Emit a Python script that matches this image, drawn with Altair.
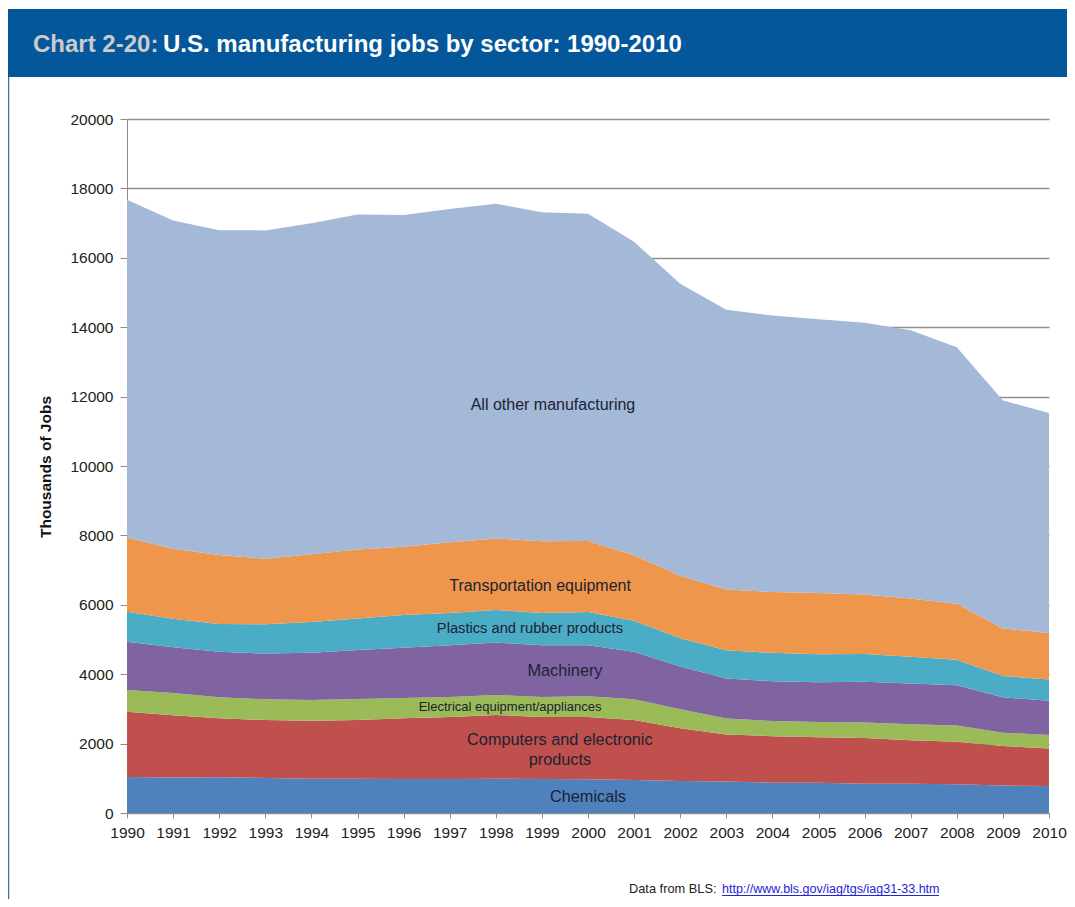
import altair as alt
import pandas as pd

# ---- data (thousands of jobs) ----
years = list(range(1990, 2011))
sectors = ["Chemicals", "Computers and electronic products", "Electrical equipment/appliances",
           "Machinery", "Plastics and rubber products", "Transportation equipment",
           "All other manufacturing"]
chemicals = [1040, 1020, 1030, 1010, 990, 990, 980, 980, 985, 980, 970, 950, 920, 905, 875, 870, 845, 840, 830, 790, 780]
computers = [1880, 1800, 1700, 1670, 1670, 1690, 1750, 1790, 1840, 1790, 1800, 1730, 1520, 1360, 1340, 1310, 1320, 1260, 1220, 1140, 1080]
electrical = [625, 640, 605, 595, 595, 605, 585, 575, 575, 575, 595, 595, 550, 460, 435, 440, 440, 460, 470, 385, 385]
machinery = [1390, 1320, 1310, 1320, 1360, 1410, 1450, 1490, 1510, 1490, 1470, 1370, 1230, 1150, 1150, 1150, 1180, 1170, 1160, 1020, 990]
plastics = [865, 815, 800, 845, 890, 910, 940, 930, 940, 930, 960, 895, 815, 815, 815, 805, 795, 770, 740, 615, 615]
transportation = [2140, 2020, 1990, 1890, 1950, 1990, 1970, 2040, 2060, 2070, 2045, 1890, 1800, 1750, 1755, 1765, 1720, 1680, 1610, 1370, 1340]
other = [9730, 9460, 9360, 9460, 9540, 9650, 9560, 9600, 9650, 9480, 9430, 9030, 8420, 8060, 7970, 7890, 7830, 7730, 7390, 6570, 6340]
colors = ["#4F81BD", "#C0504D", "#9BBB59", "#8064A2", "#4BACC6", "#EE964B", "#A4B8D8"]

y_ticks = list(range(0, 20001, 2000))

# in-chart labels: text, anchor year, anchor value
label_texts = ["All other manufacturing", "Transportation equipment", "Plastics and rubber products",
               "Machinery", "Electrical equipment/appliances", "Computers and electronic",
               "products", "Chemicals"]
label_years = [1999.24, 1998.96, 1998.74, 1999.5, 1998.31, 1999.39, 1999.39, 2000.0]
label_values = [11758, 6542, 5303, 4092, 3055, 2104, 1527, 461]
label_sizes = [16, 16, 14.7, 16.3, 13, 16.3, 16.3, 16.3]

title_prefix = "Chart 2-20:"
title_main = "U.S. manufacturing jobs by sector: 1990-2010"
source_prefix = "Data from BLS:"
source_link = "http://www.bls.gov/iag/tgs/iag31-33.htm"

# ---- build tables ----
series = [chemicals, computers, electrical, machinery, plastics, transportation, other]
rows = []
for i, (name, vals) in enumerate(zip(sectors, series)):
    for yr, v in zip(years, vals):
        rows.append({"year": yr, "jobs": v, "sector": name, "idx": i})
df = pd.DataFrame(rows)

lab = pd.DataFrame({"year": label_years, "value": label_values,
                    "text": label_texts, "fs": label_sizes})
one = pd.DataFrame({"a": [0]})

FONT = "Liberation Sans"

x_scale = alt.Scale(domain=[1990, 2010], nice=False, zero=False)
y_scale = alt.Scale(domain=[0, 20000], nice=False)

area = alt.Chart(df).mark_area(interpolate="linear").encode(
    x=alt.X("year:Q", scale=x_scale,
            axis=alt.Axis(values=years, format="d", title=None, grid=False,
                          tickSize=5, labelPadding=7, labelFontSize=15.5,
                          labelFont=FONT, labelColor="#222222",
                          domainColor="#8c8c8c", tickColor="#8c8c8c",
                          labelFlush=False, labelOverlap=False)),
    y=alt.Y("jobs:Q", stack="zero", scale=y_scale,
            axis=alt.Axis(values=y_ticks, format="d", title=None, grid=True,
                          gridColor="#8f8f8f", gridWidth=1.5,
                          tickSize=7, labelPadding=7, labelFontSize=15.5,
                          labelFont=FONT, labelColor="#222222",
                          domainColor="#8c8c8c", tickColor="#8c8c8c")),
    color=alt.Color("sector:N", scale=alt.Scale(domain=sectors, range=colors), legend=None),
    order=alt.Order("idx:Q", sort="ascending"),
)

labels = alt.Chart(lab).mark_text(font=FONT, color="#1b2233", align="center",
                                  baseline="middle").encode(
    x=alt.X("year:Q", scale=x_scale),
    y=alt.Y("value:Q", scale=y_scale),
    text="text:N",
    size=alt.Size("fs:Q", scale=None, legend=None),
)

banner = alt.Chart(one).mark_rect(color="#04579B").encode(
    x=alt.value(-119), x2=alt.value(940), y=alt.value(-110), y2=alt.value(-42))

left_border = alt.Chart(one).mark_rule(color="#3570b4", strokeWidth=1.5).encode(
    x=alt.value(-118.5), y=alt.value(-42), y2=alt.value(790))

t1 = alt.Chart(one).mark_text(font=FONT, fontSize=24, fontWeight="bold", color="#cccccc",
                              align="left", baseline="alphabetic").encode(
    x=alt.value(-94), y=alt.value(-67), text=alt.value(title_prefix))
t2 = alt.Chart(one).mark_text(font=FONT, fontSize=24, fontWeight="bold", color="#ffffff",
                              align="left", baseline="alphabetic").encode(
    x=alt.value(36), y=alt.value(-67), text=alt.value(title_main))

ytitle = alt.Chart(one).mark_text(font=FONT, fontSize=15.5, fontWeight="bold", color="#111111",
                                  angle=270, align="center", baseline="middle").encode(
    x=alt.value(-81), y=alt.value(348), text=alt.value("Thousands of Jobs"))

s1 = alt.Chart(one).mark_text(font=FONT, fontSize=12.8, color="#222222",
                              align="left", baseline="alphabetic").encode(
    x=alt.value(502), y=alt.value(774), text=alt.value(source_prefix))
s2 = alt.Chart(one).mark_text(font=FONT, fontSize=12.5, color="#2323d8",
                              align="left", baseline="alphabetic").encode(
    x=alt.value(595), y=alt.value(774), text=alt.value(source_link))
underline = alt.Chart(one).mark_rule(color="#2323d8", strokeWidth=1).encode(
    x=alt.value(595), x2=alt.value(812), y=alt.value(776.5))

chart = alt.layer(banner, left_border, t1, t2, area, labels, ytitle, s1, s2, underline).properties(
    width=922, height=694,
    autosize="none",
    padding={"left": 119, "top": 111, "right": 18, "bottom": 86},
    background="white",
).configure_view(stroke=None)

chart.save("out.html", embed_options={"renderer": "svg", "actions": False})
